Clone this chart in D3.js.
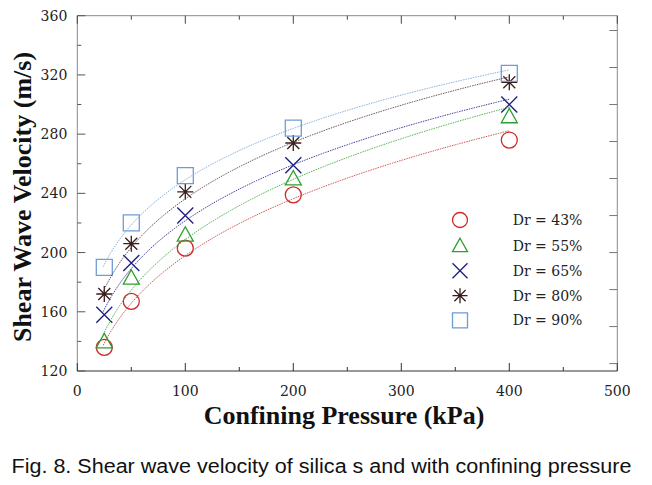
<!DOCTYPE html>
<html><head><meta charset="utf-8">
<script src="https://cdn.jsdelivr.net/npm/d3@7"></script>
<style>html,body{margin:0;padding:0;background:#fff;}svg{display:block;}</style>
</head><body>
<svg id="c" width="652" height="485"></svg>
<script>
const pressures = [25, 50, 100, 200, 400];
const seriesNames = ["Dr = 43%", "Dr = 55%", "Dr = 65%", "Dr = 80%", "Dr = 90%"];
const vs43 = [136, 167, 203, 239, 276];
const vs55 = [140, 183, 212, 250, 292];
const vs65 = [158, 193, 225, 259, 300];
const vs80 = [172, 206, 241, 274, 315];
const vs90 = [190, 220, 252, 284, 321];
const seriesValues = [vs43, vs55, vs65, vs80, vs90];
const seriesColors = ["#cc2a2a", "#2e9e2e", "#1c1c80", "#3a1c1c", "#6f9bd6"];
const seriesLineColors = ["#c84040", "#40a840", "#2a2a90", "#5a4040", "#7aa6d8"];
const seriesShapes = ["circle", "triangle", "x", "asterisk", "square"];
const xTicks = [0, 100, 200, 300, 400, 500];
const xMinorTicks = [50, 150, 250, 350, 450];
const yTicks = [120, 160, 200, 240, 280, 320, 360];
const yMinorTicks = [140, 180, 220, 260, 300, 340];
const yRightTicks = [125, 150, 175, 200, 225, 250, 275, 300, 325, 350];
const xTitle = "Confining Pressure (kPa)";
const yTitle = "Shear Wave Velocity (m/s)";
const caption = "Fig. 8. Shear wave velocity of silica s and with confining pressure";

const svg = d3.select("#c");
const x = d3.scaleLinear().domain([0, 500]).range([77.3, 617.3]);
const y = d3.scaleLinear().domain([120, 360]).range([371, 15.7]);
const X0 = x(0), X1 = x(500), Y0 = y(120), Y1 = y(360);

// frame
const frame = svg.append("g").attr("fill", "none");
frame.append("line").attr("x1", X0).attr("x2", X1).attr("y1", Y1).attr("y2", Y1).attr("stroke", "#8a8a8a");
frame.append("line").attr("x1", X1).attr("x2", X1).attr("y1", Y1).attr("y2", Y0).attr("stroke", "#8a8a8a");
frame.append("line").attr("x1", X0).attr("x2", X0).attr("y1", Y1).attr("y2", Y0).attr("stroke", "#8a8a8a");
frame.append("line").attr("x1", X0).attr("x2", X1).attr("y1", Y0).attr("y2", Y0).attr("stroke", "#333");

// ticks
const tg = svg.append("g").attr("stroke-width", 1);
xTicks.forEach(v => {
  tg.append("line").attr("x1", x(v)).attr("x2", x(v)).attr("y1", Y0).attr("y2", Y0 - 8).attr("stroke", "#333");
  tg.append("line").attr("x1", x(v)).attr("x2", x(v)).attr("y1", Y1).attr("y2", Y1 + 8).attr("stroke", "#444");
});
xMinorTicks.forEach(v => {
  tg.append("line").attr("x1", x(v)).attr("x2", x(v)).attr("y1", Y0).attr("y2", Y0 - 4).attr("stroke", "#333");
  tg.append("line").attr("x1", x(v)).attr("x2", x(v)).attr("y1", Y1).attr("y2", Y1 + 4).attr("stroke", "#444");
});
yTicks.forEach(v => {
  tg.append("line").attr("x1", X0).attr("x2", X0 + 8).attr("y1", y(v)).attr("y2", y(v)).attr("stroke", "#555");
});
yMinorTicks.forEach(v => {
  tg.append("line").attr("x1", X0).attr("x2", X0 + 4).attr("y1", y(v)).attr("y2", y(v)).attr("stroke", "#555");
});
yRightTicks.forEach(v => {
  tg.append("line").attr("x1", X1).attr("x2", X1 - 8).attr("y1", y(v)).attr("y2", y(v)).attr("stroke", "#777");
});

// tick labels
const lab = svg.append("g").attr("font-family", "DejaVu Serif").attr("font-size", 14).attr("fill", "#222");
xTicks.forEach(v => {
  lab.append("text").attr("x", x(v)).attr("y", Y0 + 20).attr("dy", "0.35em").attr("text-anchor", "middle").text(v);
});
yTicks.forEach(v => {
  lab.append("text").attr("x", X0 - 10).attr("y", y(v)).attr("dy", "0.36em").attr("text-anchor", "end").text(v);
});

// titles
svg.append("text").attr("x", 344).attr("y", 424).attr("text-anchor", "middle")
  .attr("font-family", "Liberation Serif").attr("font-weight", "bold").attr("font-size", 26).attr("fill", "#111").text(xTitle);
svg.append("text").attr("transform", "translate(31,197) rotate(-90)").attr("text-anchor", "middle")
  .attr("font-family", "Liberation Serif").attr("font-weight", "bold").attr("font-size", 26).attr("fill", "#111").text(yTitle);

// caption
svg.append("text").attr("x", 11.5).attr("y", 473).attr("font-family", "Liberation Sans").attr("font-size", 20)
  .attr("fill", "#111").attr("textLength", 620).attr("lengthAdjust", "spacingAndGlyphs").text(caption);

// symbol paths
function symbolPath(shape, s) {
  const h = s / 2;
  if (shape === "circle") return `M${h},0A${h},${h} 0 1,1 ${-h},0A${h},${h} 0 1,1 ${h},0Z`;
  if (shape === "square") return `M${-h},${-h}H${h}V${h}H${-h}Z`;
  if (shape === "triangle") return `M0,${-h}L${h},${h * 0.8}H${-h}Z`;
  if (shape === "x") return `M${-h},${-h}L${h},${h}M${-h},${h}L${h},${-h}`;
  if (shape === "asterisk") {
    const d = h * 0.75;
    return `M0,${-h}V${h}M${-h},0H${h}M${-d},${-d}L${d},${d}M${-d},${d}L${d},${-d}`;
  }
}

// power-law fit curves (least squares in log-log space)
function fitPower(xs, ys) {
  const lx = xs.map(Math.log), ly = ys.map(Math.log);
  const mx = d3.mean(lx), my = d3.mean(ly);
  const b = d3.sum(lx.map((v, i) => (v - mx) * (ly[i] - my))) / d3.sum(lx.map(v => (v - mx) * (v - mx)));
  const a = Math.exp(my - b * mx);
  return p => a * Math.pow(p, b);
}
const curveX = d3.range(24, 401, 2);
const lineGen = d3.line().x(d => x(d[0])).y(d => y(d[1]));

const markers = svg.append("g").attr("fill", "none");
seriesValues.forEach((vals, i) => {
  vals.forEach((v, j) => {
    markers.append("path").attr("transform", `translate(${x(pressures[j])},${y(v)})`)
      .attr("d", symbolPath(seriesShapes[i], 16)).attr("stroke", seriesColors[i]).attr("stroke-width", 1.3);
  });
});
const curves = svg.append("g").attr("fill", "none");
seriesValues.forEach((vals, i) => {
  const f = fitPower(pressures, vals);
  curves.append("path").attr("d", lineGen(curveX.map(p => [p, f(p)])))
    .attr("stroke", seriesLineColors[i]).attr("stroke-width", 0.9).attr("stroke-dasharray", "1.5,1");
});

// legend
const legY = [220, 245.7, 270.7, 295.7, 320.3];
const leg = svg.append("g");
seriesNames.forEach((n, i) => {
  leg.append("path").attr("transform", `translate(460,${legY[i]})`).attr("d", symbolPath(seriesShapes[i], 15))
    .attr("fill", "none").attr("stroke", seriesColors[i]).attr("stroke-width", 1.3);
  leg.append("text").attr("x", 512.7).attr("y", legY[i]).attr("dy", "0.36em")
    .attr("font-family", "DejaVu Serif").attr("font-size", 14).attr("fill", "#222").text(n);
});
</script>
</body></html>
